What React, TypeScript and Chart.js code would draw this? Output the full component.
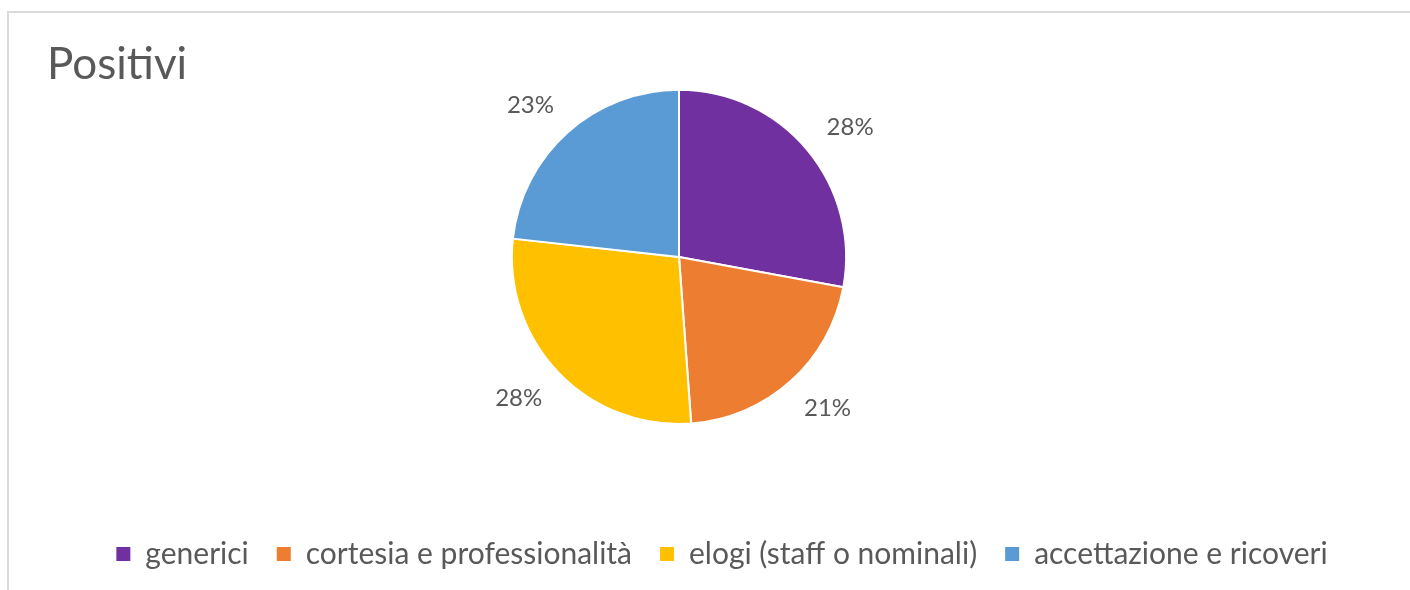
import React, { useEffect, useRef } from "react";
import { Chart, registerables } from "chart.js";

Chart.register(...registerables);

const chartTitle = "Positivi";
const categories = ["generici", "cortesia e professionalità", "elogi (staff o nominali)", "accettazione e ricoveri"];
const counts = [12, 9, 12, 10];
const sliceColors = ["#7030A0", "#ED7D31", "#FFC000", "#5B9BD5"];

const TEXT_COLOR = "#595959";
const FONT = "Lato";

const outsideLabels = {
  id: "outsideLabels",
  afterDatasetsDraw(chart: any) {
    const ctx = chart.ctx;
    const meta = chart.getDatasetMeta(0);
    const data = chart.data.datasets[0].data as number[];
    const total = data.reduce((a, b) => a + b, 0);
    ctx.save();
    ctx.font = `24px ${FONT}`;
    ctx.fillStyle = TEXT_COLOR;
    ctx.textAlign = "center";
    ctx.textBaseline = "middle";
    meta.data.forEach((arc: any, i: number) => {
      const { x, y, startAngle, endAngle, outerRadius } = arc.getProps(["x", "y", "startAngle", "endAngle", "outerRadius"], true);
      const mid = (startAngle + endAngle) / 2;
      const dx = Math.cos(mid);
      const dy = Math.sin(mid);
      const text = Math.round((data[i] / total) * 100) + "%";
      const w = ctx.measureText(text).width;
      const h = 8;
      const ax = x + (outerRadius + 32) * dx;
      const ay = y + (outerRadius + 32) * dy;
      ctx.fillText(text, ax + (w / 2) * dx, ay + (h / 2) * dy);
    });
    ctx.restore();
  },
};

export default function App() {
  const ref = useRef<HTMLCanvasElement>(null);
  useEffect(() => {
    if (!ref.current) return;
    const chart = new Chart(ref.current, {
      type: "pie",
      data: {
        labels: categories,
        datasets: [
          {
            data: counts,
            backgroundColor: sliceColors,
            borderColor: "#ffffff",
            borderWidth: 2,
          },
        ],
      },
      options: {
        animation: false,
        responsive: false,
        maintainAspectRatio: false,
        layout: { padding: { left: 39, right: 0, top: 0, bottom: 11 } },
        plugins: {
          title: {
            display: true,
            text: chartTitle,
            align: "start",
            color: TEXT_COLOR,
            font: { family: FONT, size: 44, weight: "normal", lineHeight: 1.2 },
            padding: { top: 26, bottom: -2 },
          },
          subtitle: {
            display: true,
            text: " ",
            position: "right",
            font: { family: FONT, size: 10, lineHeight: 1 },
            padding: { top: 76, bottom: 0 },
          },
          legend: {
            display: true,
            position: "bottom",
            title: {
              display: true,
              text: " ",
              font: { family: FONT, size: 10, lineHeight: 1 },
              padding: { top: 76, bottom: 0 },
            },
            labels: {
              boxWidth: 14,
              boxHeight: 14,
              padding: 28,
              color: TEXT_COLOR,
              font: { family: FONT, size: 30, weight: "normal" },
              generateLabels: (chart: any) =>
                Chart.overrides.pie.plugins.legend.labels
                  .generateLabels(chart)
                  .map((l: any) => ({ ...l, lineWidth: 0, strokeStyle: l.fillStyle })),
            },
          },
          tooltip: { enabled: false },
        },
      },
      plugins: [outsideLabels],
    });
    return () => chart.destroy();
  }, []);

  return (
    <div style={{ position: "fixed", left: 0, top: 0, width: 1410, height: 590, overflow: "hidden", background: "#ffffff" }}>
      <div
        style={{
          position: "absolute",
          left: 7,
          top: 11,
          width: 1420,
          height: 600,
          borderTop: "2px solid #dadada",
          borderLeft: "2px solid #dadada",
        }}
      />
      <canvas ref={ref} width={1389} height={578} style={{ position: "absolute", left: 8, top: 12, width: 1389, height: 578 }} />
    </div>
  );
}
